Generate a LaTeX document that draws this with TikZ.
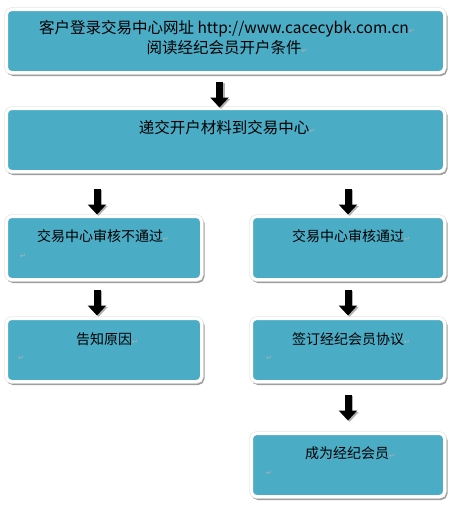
\documentclass[tikz,border=0pt]{standalone}
\usepackage{fontspec}
\setmainfont{Noto Sans CJK SC}
\newfontfamily\retfont{DejaVu Sans}
\usetikzlibrary{shadows,arrows.meta,calc}
\definecolor{boxteal}{RGB}{75,172,198}
\newcommand{\retmark}{\rlap{\retfont\fontsize{7}{7}\selectfont\color{black!30}↵}}
\tikzset{
  flowbox/.style={rectangle, rounded corners=5pt, fill=boxteal, draw=white, line width=3pt,
    inner sep=0pt,
    drop shadow={shadow xshift=1.5pt, shadow yshift=-2pt, fill=black!38, draw=black!38, line width=3pt, opacity=1},
    preaction={draw=black!10, line width=4.4pt}},
  bigtxt/.style={font=\fontsize{15.5}{20}\selectfont, align=center, inner sep=0pt, text=black},
  smalltxt/.style={font=\fontsize{14}{17}\selectfont, inner sep=0pt, text=black},
  blockarrow/.style={line width=7pt, draw=black, -{Triangle[width=18pt,length=10pt]}},
  blockshade/.style={line width=7pt, draw=black!30, -{Triangle[width=18pt,length=10pt]}},
}
\begin{document}
\begin{tikzpicture}[x=1pt,y=-1pt]
\useasboundingbox (0,0) rectangle (455,506);
% boxes
\node[flowbox, minimum width=438pt, minimum height=63pt] (b1) at (225.5,41) {};
\node[flowbox, minimum width=438pt, minimum height=63pt] (b2) at (225.5,140) {};
\node[flowbox, minimum width=195pt, minimum height=63pt] (l1) at (104,248) {};
\node[flowbox, minimum width=193pt, minimum height=63pt] (r1) at (348,248) {};
\node[flowbox, minimum width=195pt, minimum height=63pt] (l2) at (104,350) {};
\node[flowbox, minimum width=193pt, minimum height=63pt] (r2) at (348,350) {};
\node[flowbox, minimum width=193pt, minimum height=63pt] (r3) at (348,465) {};
% texts
\node[bigtxt] (t1) at (224,38) {客户登录交易中心网址 http://www.cacecybk.com.cn\retmark\\阅读经纪会员开户条件\retmark};
\node[bigtxt] (t2) at (224,128) {递交开户材料到交易中心\retmark};
\node[smalltxt] (tl1) at (100,236) {交易中心审核不通过\retmark};
\node[smalltxt] (tr1) at (348,236) {交易中心审核通过\retmark};
\node[smalltxt] (tl2) at (104,339) {告知原因\retmark};
\node[smalltxt] (tr2) at (348,339) {签订经纪会员协议\retmark};
\node[smalltxt] (tr3) at (347,453) {成为经纪会员\retmark};
% second-line paragraph marks
\node[inner sep=0pt] (m1) at (20,256) {\retmark};
\node[inner sep=0pt] (m2) at (18,358) {\retmark};
\node[inner sep=0pt] (m3) at (266,358) {\retmark};
\node[inner sep=0pt] (m4) at (266,473) {\retmark};
% arrows: source / target / x offset / gap below source
\foreach \s/\t/\dx/\gap in {b1/b2/-6/7.5, b2/l1/-7/15.5, b2/r1/0/15.5, l1/l2/-7/8.5, r1/r2/0/8.5, r2/r3/0/11.5}{
  \draw[blockshade, transform canvas={shift={(1.5pt,-1.5pt)}}]
    ($(\s.south -| \t.north)+(\dx,\gap)$) -- ++(0,26);
  \draw[blockarrow]
    ($(\s.south -| \t.north)+(\dx,\gap)$) -- ++(0,26);
}
\end{tikzpicture}
\end{document}
